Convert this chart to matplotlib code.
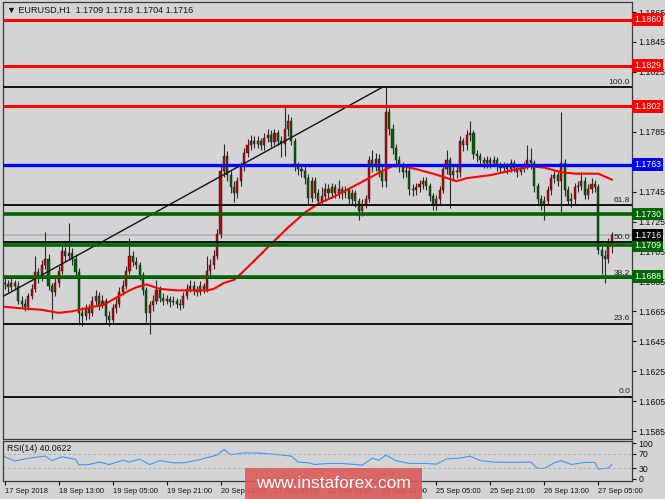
import numpy as np
import matplotlib
matplotlib.use("Agg")
import matplotlib.pyplot as plt
from matplotlib import font_manager
from matplotlib.patches import Rectangle

plt.rcParams['font.family'] = ['Liberation Sans', 'DejaVu Sans']

# ======================================
# DATA (EURUSD H1)
# ======================================

FIRST_OPEN = 1.1684

CLOSES = [
    1.1683, 1.1681, 1.1684, 1.1682, 1.1672, 1.1670, 1.1668, 1.1675, 1.1680, 1.1691,
    1.1688, 1.1696, 1.1700, 1.1682, 1.1678, 1.1684, 1.1692, 1.1705, 1.1702, 1.1704,
    1.1700, 1.1691, 1.1664, 1.1662, 1.1667, 1.1664, 1.1672, 1.1675, 1.1669, 1.1672,
    1.1662, 1.1659, 1.1667, 1.1670, 1.1678, 1.1682, 1.1692, 1.1702, 1.1698, 1.1696,
    1.1689, 1.1679, 1.1664, 1.1669, 1.1672, 1.1679, 1.1674, 1.1672, 1.1673, 1.1671,
    1.1672, 1.1670, 1.1669, 1.1675, 1.1680, 1.1682, 1.1679, 1.1678, 1.1682, 1.1680,
    1.1692, 1.1696, 1.1702, 1.1717, 1.1759, 1.1769, 1.1756, 1.1748, 1.1744, 1.1752,
    1.1762, 1.1771, 1.1776, 1.1779, 1.1777, 1.1779, 1.1776, 1.1781, 1.1783, 1.1778,
    1.1784, 1.1779, 1.1777, 1.1787, 1.1792, 1.1779, 1.1762, 1.1760, 1.1759, 1.1754,
    1.1741, 1.1752, 1.1744, 1.1739, 1.1742, 1.1747, 1.1744, 1.1748, 1.1744, 1.1747,
    1.1744, 1.1746, 1.1740, 1.1744, 1.1739, 1.1732, 1.1737, 1.1740, 1.1766, 1.1762,
    1.1767, 1.1759, 1.1752, 1.1798, 1.1787, 1.1774, 1.1766, 1.1762, 1.1758, 1.1759,
    1.1747, 1.1746, 1.1748, 1.1750, 1.1752, 1.1749, 1.1742, 1.1736, 1.1740, 1.1746,
    1.1760, 1.1766, 1.1756, 1.1759, 1.1758, 1.1779, 1.1776, 1.1783, 1.1784, 1.1770,
    1.1769, 1.1766, 1.1764, 1.1766, 1.1764, 1.1766, 1.1762, 1.1761, 1.1762, 1.1760,
    1.1764, 1.1761, 1.1758, 1.1760, 1.1762, 1.1766, 1.1764, 1.1749, 1.1740, 1.1736,
    1.1739, 1.1746, 1.1754, 1.1756, 1.1752, 1.1764, 1.1746, 1.1739, 1.1740, 1.1748,
    1.1749, 1.1752, 1.1743, 1.1747, 1.1750, 1.1748, 1.1706, 1.1702, 1.1700, 1.1709,
    1.1716,
]

HIGHS = [
    1.1687, 1.1686, 1.1687, 1.1686, 1.1685, 1.1675, 1.1673, 1.1677, 1.1683, 1.1702,
    1.1694, 1.1699, 1.1718, 1.1703, 1.1684, 1.1687, 1.1695, 1.1709, 1.1708, 1.1724,
    1.1707, 1.1703, 1.1694, 1.1668, 1.1670, 1.1670, 1.1675, 1.1679, 1.1678, 1.1676,
    1.1674, 1.1665, 1.1670, 1.1674, 1.1681, 1.1686, 1.1695, 1.1714, 1.1705, 1.1701,
    1.1698, 1.1691, 1.1681, 1.1672, 1.1676, 1.1686, 1.1682, 1.1677, 1.1676, 1.1675,
    1.1675, 1.1674, 1.1673, 1.1678, 1.1683, 1.1686, 1.1685, 1.1682, 1.1685, 1.1684,
    1.1702, 1.1700, 1.1706, 1.1720, 1.1763, 1.1777, 1.1772, 1.1759, 1.1752, 1.1755,
    1.1765, 1.1774, 1.1780, 1.1783, 1.1782, 1.1782, 1.1781, 1.1784, 1.1787, 1.1786,
    1.1787, 1.1786, 1.1782, 1.1802, 1.1797, 1.1795, 1.1781, 1.1765, 1.1763, 1.1762,
    1.1757, 1.1755, 1.1755, 1.1747, 1.1748, 1.1751, 1.1750, 1.1751, 1.1750, 1.1753,
    1.1749, 1.1749, 1.1748, 1.1747, 1.1746, 1.1741, 1.1740, 1.1743, 1.1769, 1.1773,
    1.1771, 1.1770, 1.1762, 1.1815, 1.1801, 1.1790, 1.1777, 1.1769, 1.1765, 1.1762,
    1.1761, 1.1750, 1.1751, 1.1753, 1.1755, 1.1755, 1.1751, 1.1744, 1.1743, 1.1749,
    1.1763, 1.1773, 1.1768, 1.1763, 1.1762, 1.1782, 1.1781, 1.1786, 1.1792, 1.1786,
    1.1773, 1.1771, 1.1768, 1.1769, 1.1768, 1.1769, 1.1768, 1.1765, 1.1765, 1.1764,
    1.1767, 1.1766, 1.1763, 1.1763, 1.1765, 1.1776, 1.1774, 1.1766, 1.1751, 1.1743,
    1.1742, 1.1749, 1.1757, 1.1759, 1.1758, 1.1798, 1.1767, 1.1749, 1.1744, 1.1751,
    1.1752, 1.1758, 1.1755, 1.1750, 1.1754, 1.1753, 1.1750, 1.1709, 1.1706, 1.1714,
    1.1718,
]

LOWS = [
    1.1680, 1.1678, 1.1679, 1.1679, 1.1670, 1.1667, 1.1665, 1.1666, 1.1673, 1.1678,
    1.1684, 1.1685, 1.1693, 1.1679, 1.1660, 1.1675, 1.1681, 1.1690, 1.1698, 1.1699,
    1.1696, 1.1688, 1.1656, 1.1655, 1.1659, 1.1660, 1.1662, 1.1669, 1.1666, 1.1667,
    1.1657, 1.1655, 1.1657, 1.1664, 1.1668, 1.1676, 1.1680, 1.1690, 1.1695, 1.1693,
    1.1686, 1.1676, 1.1658, 1.1650, 1.1665, 1.1670, 1.1671, 1.1669, 1.1670, 1.1668,
    1.1669, 1.1667, 1.1666, 1.1667, 1.1673, 1.1678, 1.1676, 1.1675, 1.1676, 1.1677,
    1.1678, 1.1689, 1.1693, 1.1700, 1.1714, 1.1755, 1.1752, 1.1744, 1.1738, 1.1741,
    1.1749, 1.1759, 1.1768, 1.1773, 1.1774, 1.1774, 1.1773, 1.1773, 1.1778, 1.1775,
    1.1776, 1.1776, 1.1768, 1.1769, 1.1782, 1.1776, 1.1759, 1.1756, 1.1755, 1.1750,
    1.1736, 1.1738, 1.1741, 1.1736, 1.1736, 1.1739, 1.1741, 1.1741, 1.1741, 1.1741,
    1.1740, 1.1741, 1.1737, 1.1737, 1.1735, 1.1726, 1.1729, 1.1734, 1.1738, 1.1758,
    1.1759, 1.1755, 1.1748, 1.1748, 1.1783, 1.1770, 1.1762, 1.1758, 1.1754, 1.1755,
    1.1743, 1.1742, 1.1743, 1.1745, 1.1747, 1.1746, 1.1739, 1.1733, 1.1733, 1.1737,
    1.1744, 1.1757, 1.1734, 1.1752, 1.1754, 1.1755, 1.1772, 1.1773, 1.1779, 1.1767,
    1.1765, 1.1763, 1.1761, 1.1761, 1.1761, 1.1762, 1.1759, 1.1758, 1.1758, 1.1757,
    1.1758, 1.1758, 1.1755, 1.1756, 1.1758, 1.1760, 1.1760, 1.1745, 1.1737, 1.1733,
    1.1726, 1.1736, 1.1743, 1.1751, 1.1749, 1.1731, 1.1742, 1.1736, 1.1735, 1.1737,
    1.1745, 1.1746, 1.1740, 1.1740, 1.1744, 1.1745, 1.1703, 1.1690, 1.1684, 1.1697,
    1.1704,
]

# red moving average, read at a few bars
MA_BARS = [0, 5, 11, 16, 20, 26, 29, 33, 37, 39, 42, 46, 51, 56, 60, 62, 65, 68, 70,
           75, 79, 84, 89, 93, 98, 103, 108, 113, 115, 118, 122, 127, 134, 137, 144,
           150, 156, 160, 165, 169, 176, 180]
MA_VALUES = [1.1668, 1.1667, 1.1666, 1.1664, 1.1665, 1.1668, 1.1669, 1.1674, 1.1679,
             1.1681, 1.1683, 1.1680, 1.1679, 1.1679, 1.1679, 1.1680, 1.1684, 1.1686,
             1.1690, 1.1701, 1.1710, 1.1721, 1.1731, 1.1737, 1.1742, 1.1748, 1.1754,
             1.1760, 1.1762, 1.1762, 1.1760, 1.1757, 1.1752, 1.1754, 1.1756, 1.1759,
             1.1762, 1.1761, 1.1758, 1.1757, 1.1757, 1.1753]

RSI_BARS = [0, 3, 7, 12, 14, 17, 21, 22, 25, 28, 31, 35, 37, 40, 43, 46, 50, 53, 57, 61,
            63, 65, 67, 71, 75, 80, 82, 85, 87, 90, 92, 96, 100, 104, 106, 109, 111,
            113, 116, 120, 125, 128, 131, 135, 138, 141, 145, 150, 156, 158, 160, 163,
            165, 168, 172, 175, 176, 179, 180]
RSI_VALUES = [62, 50, 58, 64, 51, 62, 55, 39, 40, 47, 40, 52, 47, 55, 40, 51, 45, 45, 52,
              62, 67, 83, 68, 73, 73, 69, 67, 64, 47, 45, 40, 43, 43, 40, 38, 58, 52, 67,
              51, 43, 43, 41, 56, 58, 64, 51, 47, 46, 47, 29, 29, 45, 51, 40, 46, 46, 27,
              30, 40]

RED_LEVELS = [1.1860, 1.1829, 1.1802]
BLUE_LEVEL = 1.1763
GREEN_LEVELS = [1.1730, 1.1709, 1.1688]
BID = 1.1716

FIB_LOW = 1.1608
FIB_HIGH = 1.1815
FIB_RATIOS = [0.0, 23.6, 38.2, 50.0, 61.8, 100.0]

TREND_BARS = [-0.5, 112.2]
TREND_PRICES = [1.1675, 1.1815]

PRICE_TICKS = [1.1865, 1.1845, 1.1825, 1.1805, 1.1785, 1.1765, 1.1745, 1.1725,
               1.1705, 1.1685, 1.1665, 1.1645, 1.1625, 1.1605, 1.1585]
# these sit under the coloured price boxes
HIDDEN_TICKS = [1.1805, 1.1765]

DATE_BARS = [0, 16, 32, 48, 64, 80, 96, 112, 128, 144, 160, 176]
DATE_LABELS = ['17 Sep 2018', '18 Sep 13:00', '19 Sep 05:00', '19 Sep 21:00',
               '20 Sep 13:00', '21 Sep 05:00', '21 Sep 21:00', '24 Sep 13:00',
               '25 Sep 05:00', '25 Sep 21:00', '26 Sep 13:00', '27 Sep 05:00']

# narrow font for the date axis if there is one
try:
    font_manager.findfont(font_manager.FontProperties(family='Liberation Sans Narrow'),
                          fallback_to_default=False)
    DATE_FONT, DATE_SIZE = 'Liberation Sans Narrow', 6.0
except ValueError:
    DATE_FONT, DATE_SIZE = 'Liberation Sans', 5.4

# ======================================
# FIGURE
# ======================================

W, H = 665, 499
BG = '#d4d4d4'
fig = plt.figure(figsize=(W / 100, H / 100), dpi=100, facecolor=BG)

ax = fig.add_axes([3 / W, 1 - 439 / H, 629 / W, 437 / H], facecolor=BG)
rsi = fig.add_axes([3 / W, 1 - 481 / H, 629 / W, 40 / H], facecolor=BG, sharex=ax)

for a in (ax, rsi):
    for s in a.spines.values():
        s.set_color('#3a3a3a')
        s.set_linewidth(0.9)

# candles
x = np.arange(len(CLOSES))
c = np.array(CLOSES)
o = np.array([FIRST_OPEN] + CLOSES[:-1])
bull = c >= o
ax.vlines(x, LOWS, HIGHS, color='#2a2a2a', lw=0.8, zorder=3)
ax.bar(x, np.maximum(np.abs(c - o), 0.00004), bottom=np.minimum(o, c), width=0.62,
       color=np.where(bull, '#c40000', '#006400'), edgecolor='#1a1a1a',
       linewidth=0.3, zorder=4)

# moving average
ax.plot(MA_BARS, MA_VALUES, color='#ff0000', lw=1.5, zorder=5)

# fibonacci levels
fib_prices = [FIB_LOW + r / 100 * (FIB_HIGH - FIB_LOW) for r in FIB_RATIOS]
for r, p in zip(FIB_RATIOS, fib_prices):
    ax.axhline(p, color='#111111', lw=1.4, zorder=6)
    ax.text(0.997, p + 0.00008, f'{r:.1f}', transform=ax.get_yaxis_transform(),
            ha='right', va='bottom', fontsize=6, color='#222222', zorder=6)

# trend line
ax.plot(TREND_BARS, TREND_PRICES, color='#111111', lw=1.0, zorder=6)

# bid line
ax.axhline(BID, color='#aab2ba', lw=1.2, zorder=2)

# support / resistance
for p in RED_LEVELS:
    ax.axhline(p, color='#ff0000', lw=2.2, zorder=7)
ax.axhline(BLUE_LEVEL, color='#0000ff', lw=2.4, zorder=7)
for p in GREEN_LEVELS:
    ax.axhline(p, color='#006400', lw=2.6, zorder=7)

ax.set_xlim(-0.5, 186)
ax.set_ylim(1.15797, 1.18717)
ax.yaxis.tick_right()
ax.set_yticks(PRICE_TICKS)
ax.set_yticklabels(['' if p in HIDDEN_TICKS else f'{p:.4f}' for p in PRICE_TICKS])
ax.tick_params(axis='y', length=3, width=0.8, pad=1.5, labelsize=6.3, colors='#111111')
ax.tick_params(axis='x', bottom=False, labelbottom=False)

# price boxes on the right
boxes = [(p, '#ff0000') for p in RED_LEVELS] + [(BLUE_LEVEL, '#0000ff')]
boxes += [(p, '#006400') for p in GREEN_LEVELS] + [(BID, '#000000')]
for p, col in boxes:
    ax.annotate(f'{p:.4f}', xy=(1.0, p), xycoords=('axes fraction', 'data'),
                xytext=(1.6, 0), textcoords='offset points', ha='left', va='center',
                fontsize=6.3, color='white', annotation_clip=False, zorder=10,
                bbox=dict(boxstyle='square,pad=0.22', fc=col, ec='none'))

ax.text(0.006, 0.992, '\u25BC EURUSD,H1  1.1709 1.1718 1.1704 1.1716',
        transform=ax.transAxes, ha='left', va='top', fontsize=6.5, color='#111111',
        family=['Liberation Sans', 'DejaVu Sans'])

# ======================================
# RSI
# ======================================

rsi.plot(RSI_BARS, RSI_VALUES, color='#3399ff', lw=0.8)
for lvl in (30, 70):
    rsi.axhline(lvl, color='#a8a8a8', lw=0.6, ls=(0, (3, 3)))
rsi.set_ylim(-7, 107)
rsi.yaxis.tick_right()
rsi.set_yticks([0, 30, 70, 100])
rsi.tick_params(axis='y', length=3, width=0.8, pad=1.5, labelsize=6.3, colors='#111111')
rsi.text(0.006, 0.93, 'RSI(14) 40.0622', transform=rsi.transAxes, ha='left',
         va='top', fontsize=6.3, color='#111111')

rsi.set_xticks(DATE_BARS)
rsi.set_xticklabels(DATE_LABELS)
rsi.tick_params(axis='x', length=3, width=0.8, pad=2, colors='#111111')
for lab in rsi.get_xticklabels():
    lab.set_ha('left')
    lab.set_family(DATE_FONT)
    lab.set_fontsize(DATE_SIZE)

# watermark
fig.patches.append(Rectangle((245 / W, 0), 177 / W, 31 / H, transform=fig.transFigure,
                             facecolor='#dc5a5a', alpha=0.9, edgecolor='none', zorder=20))
fig.text(333.5 / W, 15 / H, 'www.instaforex.com', ha='center', va='center',
         fontsize=12.5, color='white', zorder=21)

fig.savefig('out.png', dpi=100, facecolor=BG)
